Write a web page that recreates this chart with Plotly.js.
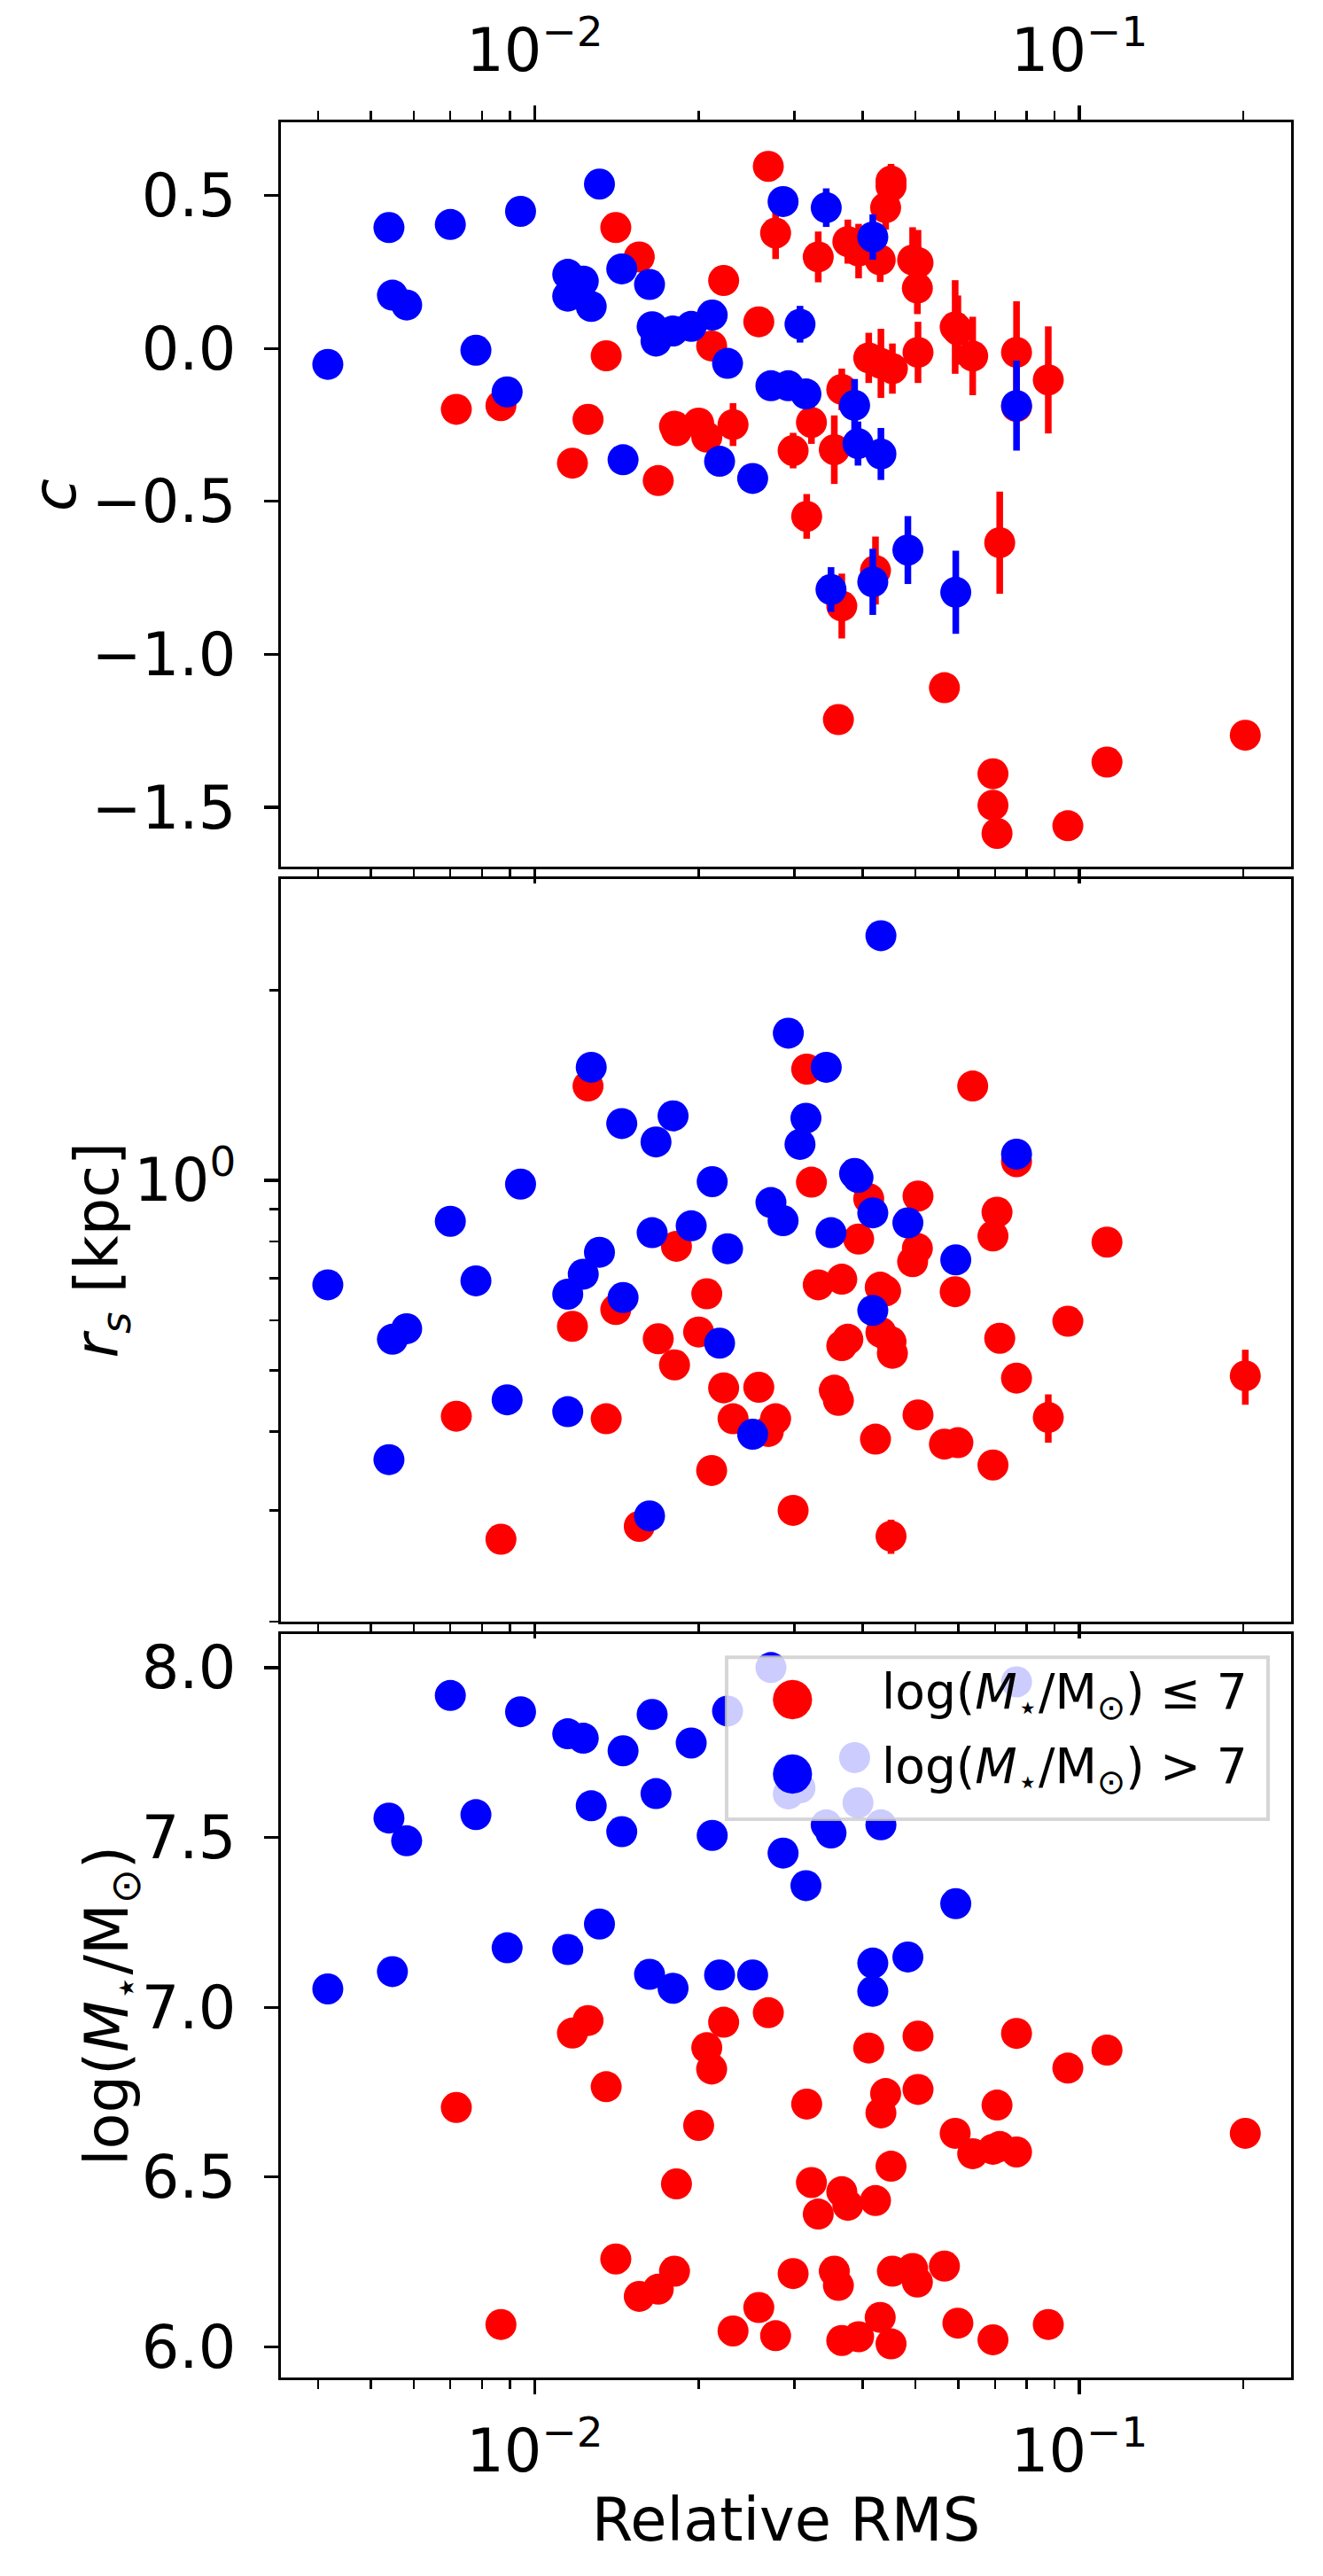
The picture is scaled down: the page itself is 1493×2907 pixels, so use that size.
<!DOCTYPE html>
<html>
<head>
<meta charset="utf-8">
<script src="https://cdn.plot.ly/plotly-3.0.1.min.js"></script>
<style>
  body { margin: 0; background: #fff; }
  #plot { width: 1493px; height: 2907px; }
</style>
</head>
<body>
<div id="plot"></div>
<script>
// galaxies with log(M*/Msun) <= 7 (red)
const redRms = [0.00718, 0.00867, 0.01173, 0.01253, 0.01353, 0.01409, 0.01556, 0.01686, 0.01806, 0.01821,
  0.0200, 0.0207, 0.02113, 0.02223, 0.02313, 0.02579, 0.02685, 0.02769, 0.02982, 0.03158,
  0.03222, 0.03316, 0.03549, 0.03611, 0.03663, 0.03663, 0.03758, 0.03933, 0.04105, 0.04224,
  0.04309, 0.04322, 0.04409, 0.04511, 0.04537, 0.04511, 0.04942, 0.05042, 0.05056, 0.05056,
  0.05653, 0.05916, 0.05984, 0.06371, 0.06941, 0.06941, 0.07061, 0.07142, 0.07668, 0.07668,
  0.0877, 0.09526, 0.1124, 0.2017];
const redC = [-0.199, -0.187, -0.375, -0.232, -0.024, 0.395, 0.299, -0.432, -0.254, -0.269,
  -0.244, -0.290, 0.008, 0.222, -0.249, 0.087, 0.595, 0.377, -0.334, -0.549,
  -0.242, 0.299, -0.331, -1.213, -0.134, -0.842, 0.349, 0.318, -0.031, -0.726,
  0.289, -0.049, 0.460, 0.547, -0.066, 0.530, 0.289, 0.197, -0.013, 0.280,
  -1.109, 0.070, 0.060, -0.025, -1.390, -1.493, -1.585, -0.635, -0.013, -0.190,
  -0.103, -1.560, -1.352, -1.264];
const redCErr = [0, 0, 0, 0, 0, 0, 0, 0, 0, 0,
  0, 0, 0, 0, 0.07, 0, 0, 0.085, 0.058, 0.073,
  0.07, 0.083, 0.112, 0, 0.068, 0.106, 0.072, 0.089, 0.082, 0.111,
  0.072, 0.113, 0.072, 0.056, 0.082, 0.05, 0.107, 0.085, 0.10, 0.107,
  0, 0.153, 0.113, 0.128, 0, 0, 0, 0.167, 0.167, 0,
  0.175, 0, 0, 0];
const redRs = [0.423, 0.270, 0.587, 1.41, 0.419, 0.624, 0.283, 0.561, 0.510, 0.786,
  0.575, 0.661, 0.347, 0.469, 0.419, 0.470, 0.400, 0.419, 0.300, 1.50,
  0.993, 0.683, 0.465, 0.448, 0.697, 0.547, 0.560, 0.807, 0.935, 0.389,
  0.677, 0.574, 0.668, 0.555, 0.532, 0.273, 0.743, 0.780, 0.944, 0.425,
  0.382, 0.666, 0.384, 1.41, 0.816, 0.354, 0.890, 0.562, 1.07, 0.486,
  0.421, 0.598, 0.798, 0.490];
const redRsErr = [0, 0, 0, 0, 0, 0, 0, 0, 0, 0,
  0, 0, 0, 0, 0, 0, 0, 0, 0, 0,
  0, 0, 0, 0, 0, 0, 0, 0, 0, 0,
  0, 0, 0, 0, 0, 0.017, 0, 0, 0, 0,
  0, 0, 0, 0, 0, 0, 0, 0, 0, 0,
  0.037, 0, 0, 0.049];
const redLogM = [6.705, 6.066, 6.924, 6.961, 6.766, 6.259, 6.149, 6.170, 6.223, 6.480,
  6.652, 6.881, 6.818, 6.956, 6.047, 6.116, 6.984, 6.033, 6.216, 6.715,
  6.484, 6.391, 6.223, 6.181, 6.457, 6.019, 6.417, 6.030, 6.880, 6.431,
  6.087, 6.689, 6.746, 6.532, 6.223, 6.009, 6.231, 6.191, 6.915, 6.758,
  6.238, 6.629, 6.070, 6.569, 6.582, 6.021, 6.712, 6.590, 6.923, 6.574,
  6.066, 6.821, 6.874, 6.629];

// galaxies with log(M*/Msun) > 7 (blue)
const blueRms = [0.00417, 0.0054, 0.00548, 0.00582, 0.0070, 0.0078, 0.0089, 0.00942, 0.0115, 0.0115,
  0.01228, 0.0127, 0.01315, 0.01445, 0.01453, 0.01625, 0.01643, 0.0167, 0.01795, 0.01938,
  0.02118, 0.02185, 0.0226, 0.02513, 0.02715, 0.02858, 0.02922, 0.0307, 0.03148, 0.0343,
  0.0350, 0.03867, 0.03923, 0.04176, 0.04176, 0.04322, 0.04844, 0.05931, 0.07668];
const blueC = [-0.052, 0.395, 0.174, 0.142, 0.405, -0.006, -0.142, 0.448, 0.242, 0.171,
  0.220, 0.137, 0.537, 0.260, -0.364, 0.209, 0.071, 0.024, 0.057, 0.072,
  0.109, -0.369, -0.049, -0.425, -0.122, 0.480, -0.122, 0.079, -0.149, 0.460,
  -0.788, -0.186, -0.311, 0.364, -0.763, -0.345, -0.659, -0.797, -0.187];
const blueCErr = [0, 0, 0, 0, 0, 0, 0, 0, 0, 0,
  0, 0, 0, 0, 0, 0, 0, 0, 0, 0,
  0, 0, 0, 0, 0.02, 0, 0.02, 0.06, 0.03, 0.063,
  0.073, 0.086, 0.072, 0.074, 0.108, 0.085, 0.111, 0.136, 0.147];
const blueRs = [0.683, 0.361, 0.560, 0.582, 0.861, 0.693, 0.449, 0.986, 0.660, 0.430,
  0.710, 1.51, 0.769, 1.23, 0.652, 0.294, 0.826, 1.15, 1.265, 0.847,
  0.995, 0.552, 0.779, 0.396, 0.922, 0.863, 1.71, 1.14, 1.254, 1.51,
  0.826, 1.025, 1.01, 0.888, 0.622, 2.44, 0.856, 0.748, 1.10];
const blueLogM = [7.054, 7.557, 7.105, 7.490, 7.918, 7.567, 7.175, 7.870, 7.805, 7.170,
  7.792, 7.593, 7.245, 7.517, 7.755, 7.097, 7.862, 7.629, 7.056, 7.778,
  7.506, 7.095, 7.872, 7.095, 8.000, 7.454, 7.628, 7.646, 7.358, 7.537,
  7.513, 7.735, 7.602, 7.130, 7.047, 7.537, 7.148, 7.305, 7.958];

const RED = "#ff0000";
const BLUE = "#0000ff";
const FONT = "DejaVu Sans, Liberation Sans, sans-serif";

function pts(x, y, err, color, xa, ya) {
  return {
    x: x, y: y, xaxis: xa, yaxis: ya,
    type: "scatter", mode: "markers",
    marker: {color: color, size: 35, line: {width: 0}},
    error_y: {type: "data", array: err, visible: true, width: 0, thickness: 7.5, color: color},
    showlegend: false, hoverinfo: "x+y"
  };
}

let zeros = blueRms.map(() => 0);
let data = [
  pts(redRms, redC, redCErr, RED, "x3", "y3"),
  pts(blueRms, blueC, blueCErr, BLUE, "x3", "y3"),
  pts(redRms, redRs, redRsErr, RED, "x2", "y2"),
  pts(blueRms, blueRs, zeros, BLUE, "x2", "y2"),
  pts(redRms, redLogM, zeros, RED, "x", "y"),
  pts(blueRms, blueLogM, zeros, BLUE, "x", "y")
];

// shared x axis look
const xMinor = [0.004, 0.005, 0.006, 0.007, 0.008, 0.009, 0.02, 0.03, 0.04, 0.05, 0.06, 0.07, 0.08, 0.09, 0.2];
function xax(extra) {
  return Object.assign({
    type: "log", range: [Math.log10(0.00342), Math.log10(0.2448)],
    tickmode: "array", tickvals: [0.01, 0.1],
    ticktext: ["10<sup>\u22122</sup>", "10<sup>\u22121</sup>"],
    ticks: "outside", ticklen: 16, tickwidth: 3.3, tickcolor: "#000",
    minor: {tickmode: "array", tickvals: xMinor, ticks: "outside", ticklen: 10, tickwidth: 2.5, tickcolor: "#000", showgrid: false},
    showline: true, linecolor: "#000", linewidth: 3.3, mirror: true,
    showgrid: false, zeroline: false,
    tickfont: {size: 67, color: "#000"}
  }, extra);
}
function yax(extra) {
  return Object.assign({
    ticks: "outside", ticklen: 16, tickwidth: 3.3, tickcolor: "#000",
    showline: true, linecolor: "#000", linewidth: 3.3, mirror: true,
    showgrid: false, zeroline: false, ticklabelstandoff: 18,
    tickfont: {size: 67, color: "#000"}
  }, extra);
}

// axis titles as rotated annotations (placed like matplotlib's labels)
function ytitle(text, xPaper, yPaper) {
  return {xref: "paper", yref: "paper", x: xPaper, y: yPaper, text: text, textangle: -90,
    showarrow: false, xanchor: "center", yanchor: "middle", font: {size: 67}};
}

let layout = {
  width: 1493, height: 2907,
  margin: {l: 317, r: 36, t: 138, b: 224},
  paper_bgcolor: "#fff", plot_bgcolor: "#fff",
  font: {family: FONT, color: "#000"},
  showlegend: false,
  xaxis: xax({anchor: "y", domain: [0, 1], ticklabelstandoff: 6,
    title: {text: "Relative RMS", font: {size: 67}, standoff: 16}}),
  xaxis2: xax({anchor: "y2", domain: [0, 1], showticklabels: false}),
  xaxis3: xax({anchor: "y3", domain: [0, 1], side: "top", mirror: "ticks", ticklabelstandoff: 12}),
  yaxis: yax({anchor: "x", domain: [0, 0.3297], range: [5.91, 8.099],
    tickmode: "linear", tick0: 6, dtick: 0.5, tickformat: ".1f"}),
  yaxis2: yax({anchor: "x2", domain: [0.3352, 0.6644], type: "log", range: [-0.699, 0.477],
    tickmode: "array", tickvals: [1], ticktext: ["10<sup>0</sup>"],
    minor: {tickmode: "array", tickvals: [0.2, 0.3, 0.4, 0.5, 0.6, 0.7, 0.8, 0.9, 2, 3], ticks: "outside", ticklen: 10, tickwidth: 2.5, tickcolor: "#000", showgrid: false}}),
  yaxis3: yax({anchor: "x3", domain: [0.6699, 1], range: [-1.694, 0.739],
    tickmode: "linear", tick0: 0, dtick: 0.5, tickformat: ".1f"}),
  // legend drawn by hand so the keys match the marker size
  shapes: [{
    type: "rect", xref: "paper", yref: "paper", layer: "above",
    x0: 0.4412, x1: 0.9772, y0: 0.2475, y1: 0.3194,
    fillcolor: "rgba(255,255,255,0.8)", line: {color: "rgba(204,204,204,0.8)", width: 4}
  }],
  annotations: [
    ytitle("<i>c</i>", -0.2237, 0.835),
    ytitle("<i>r<sub>s</sub></i> [kpc]", -0.1785, 0.4998),
    ytitle("log(<i>M</i><sub>\u22c6</sub>/M<sub>\u2299</sub>)", -0.1680, 0.1648),
    {xref: "paper", yref: "paper", x: 0.5065, y: 0.3026, text: "\u25cf", showarrow: false,
      font: {size: 58, color: RED}, xanchor: "center", yanchor: "middle"},
    {xref: "paper", yref: "paper", x: 0.5065, y: 0.2697, text: "\u25cf", showarrow: false,
      font: {size: 58, color: BLUE}, xanchor: "center", yanchor: "middle"},
    {xref: "paper", yref: "paper", x: 0.5928, y: 0.3026, showarrow: false, xanchor: "left", yanchor: "middle",
      text: "log(<i>M</i><sub>\u22c6</sub>/M<sub>\u2299</sub>) \u2264 7", font: {size: 55}},
    {xref: "paper", yref: "paper", x: 0.5928, y: 0.2697, showarrow: false, xanchor: "left", yanchor: "middle",
      text: "log(<i>M</i><sub>\u22c6</sub>/M<sub>\u2299</sub>) > 7", font: {size: 55}}
  ]
};

Plotly.newPlot("plot", data, layout, {staticPlot: true});
</script>
</body>
</html>
